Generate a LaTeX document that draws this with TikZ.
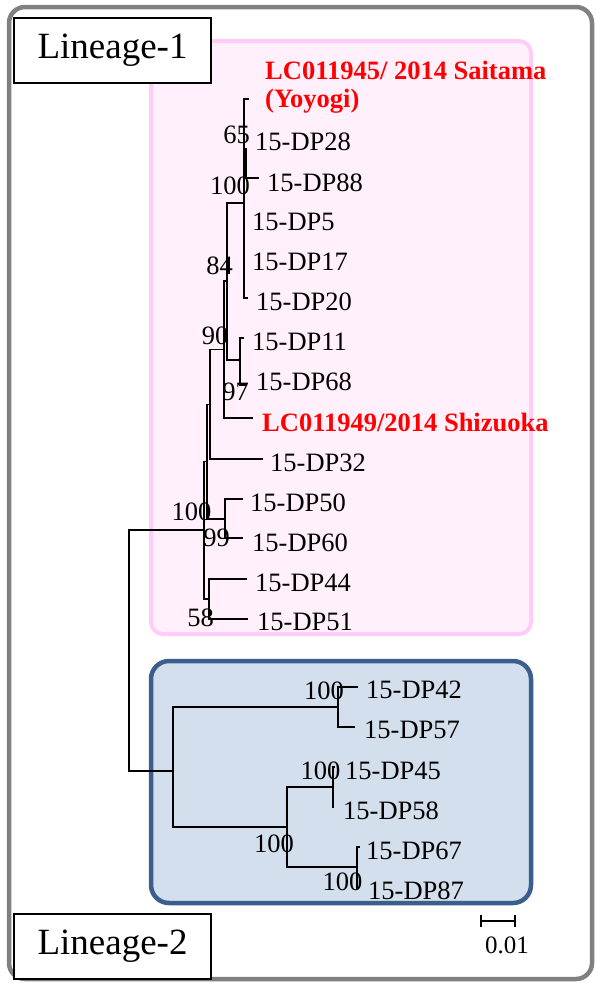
\documentclass[tikz,border=0pt]{standalone}
\usepackage{fontspec}
\setmainfont{Liberation Serif}
\definecolor{framegray}{HTML}{808080}
\definecolor{pinkfill}{HTML}{FFF0FC}
\definecolor{pinkline}{HTML}{FFCCF8}
\definecolor{bluefill}{HTML}{D4DFEE}
\definecolor{blueline}{HTML}{3B5E8C}
\begin{document}
\begin{tikzpicture}[x=1pt,y=-1pt,
  br/.style={line width=1.6pt},
  leaf/.style={anchor=west, inner sep=0pt, font=\fontsize{26.5}{28}\selectfont},
  redleaf/.style={anchor=west, inner sep=0pt, text=red, font=\fontsize{26.5}{28}\selectfont\bfseries},
  boot/.style={inner sep=0pt, font=\fontsize{26.5}{28}\selectfont},
  linbox/.style={draw, line width=1.5pt, fill=white, minimum width=197pt, minimum height=65pt, inner sep=0pt, font=\fontsize{37}{40}\selectfont}]
\useasboundingbox (0,0) rectangle (595,983);
% frames
\draw[framegray, line width=4.5pt, rounded corners=16pt] (9,7) rectangle (592,979);
\draw[pinkline, fill=pinkfill, line width=4pt, rounded corners=12pt] (151,41) rectangle (531,634);
\draw[blueline, fill=bluefill, line width=4.5pt, rounded corners=18pt] (151,661) rectangle (531,903);
\node[linbox] (lin1) at (112.5,50.5) {Lineage-1};
\node[linbox] (lin2) at (112.5,946.5) {Lineage-2};
% ---- tree coordinates (lineage 1)
\coordinate (n100a) at (244,203);
\coordinate (tYoy) at (249,99);
\coordinate (tDP28) at (244,142);
\coordinate (tDP88) at (259,178);
\coordinate (tDP5) at (244,222);
\coordinate (tDP17) at (244,262);
\coordinate (tDP20) at (248,298);
\coordinate (n65) at (246,162);
\coordinate (n65a) at (246,148);
\coordinate (n65b) at (246,177);
\coordinate (nB) at (227,281);
\coordinate (n97) at (240,360);
\coordinate (tDP11) at (244,338);
\coordinate (tDP68) at (246,385);
\coordinate (nA) at (224,349.5);
\coordinate (tShiz) at (253,418);
\coordinate (nC) at (210,404.5);
\coordinate (tDP32) at (263,459);
\coordinate (nF) at (207,461.5);
\coordinate (n99) at (225,519);
\coordinate (tDP50) at (243,499);
\coordinate (tDP60) at (243,538);
\coordinate (nE) at (204,530);
\coordinate (n58) at (209,599);
\coordinate (tDP44) at (247,579);
\coordinate (tDP51) at (248,619);
\coordinate (root) at (129,650);
% lineage 2
\coordinate (nL2) at (173,771);
\coordinate (n42) at (338,707);
\coordinate (tDP42) at (358,687);
\coordinate (tDP57) at (355,727);
\coordinate (n4567) at (287,827);
\coordinate (n45) at (333,787);
\coordinate (tDP45) at (335,767);
\coordinate (tDP58) at (334,807);
\coordinate (n67) at (357,867);
\coordinate (tDP67) at (360,847);
\coordinate (tDP87) at (358,888);
% ---- branches
\draw[br] (n100a) |- (tYoy) (n100a) |- (tDP88) (n100a) |- (tDP20);
\draw[line width=2.6pt] (n65a) -- (n65b);
\draw[br] (nB) |- (n100a) (nB) |- (n97);
\draw[br] (n97) |- (tDP11) (n97) |- (tDP68);
\draw[br] (nA) |- (nB) (nA) |- (tShiz);
\draw[br] (nC) |- (nA) (nC) |- (tDP32);
\draw[br] (nF) |- (nC) (nF) |- (n99);
\draw[br] (n99) |- (tDP50) (n99) |- (tDP60);
\draw[br] (nE) |- (nF) (nE) |- (n58);
\draw[br] (n58) |- (tDP44) (n58) |- (tDP51);
\draw[br] (root) |- (nE) (root) |- (nL2);
\draw[br] (nL2) |- (n42) (nL2) |- (n4567);
\draw[br] (n42) |- (tDP42) (n42) |- (tDP57);
\draw[br] (n4567) |- (n45) (n4567) |- (n67);
\draw[br] (n45) |- (tDP45) (n45) |- (tDP58);
\draw[br] (n67) |- (tDP67) (n67) |- (tDP87);
% ---- leaf labels
\node[redleaf] (lYoy1) at (265,70) {LC011945/ 2014 Saitama};
\node[redleaf] (lYoy2) at (265,101) {(Yoyogi)};
\node[leaf] (lDP28) at (255,142) {15-DP28};
\node[leaf] (lDP88) at (267,183) {15-DP88};
\node[leaf] (lDP5) at (252,222) {15-DP5};
\node[leaf] (lDP17) at (252,262) {15-DP17};
\node[leaf] (lDP20) at (256,302) {15-DP20};
\node[leaf] (lDP11) at (252,342) {15-DP11};
\node[leaf] (lDP68) at (256,382) {15-DP68};
\node[redleaf] (lShiz) at (262,422) {LC011949/2014 Shizuoka};
\node[leaf] (lDP32) at (270,463) {15-DP32};
\node[leaf] (lDP50) at (250,503) {15-DP50};
\node[leaf] (lDP60) at (252,543) {15-DP60};
\node[leaf] (lDP44) at (255,583) {15-DP44};
\node[leaf] (lDP51) at (257,622) {15-DP51};
\node[leaf] (lDP42) at (366,690) {15-DP42};
\node[leaf] (lDP57) at (364,730) {15-DP57};
\node[leaf] (lDP45) at (345,771) {15-DP45};
\node[leaf] (lDP58) at (343,811) {15-DP58};
\node[leaf] (lDP67) at (366,851) {15-DP67};
\node[leaf] (lDP87) at (368,891) {15-DP87};
% ---- bootstrap values
\node[boot] (b65) at (236.5,135) {65};
\node[boot] (b100a) at (230,185.5) {100};
\node[boot] (b84) at (219.5,265.5) {84};
\node[boot] (b90) at (215,336) {90};
\node[boot] (b97) at (235.5,392) {97};
\node[boot] (b100b) at (191.5,512) {100};
\node[boot] (b99) at (216.5,538) {99};
\node[boot] (b58) at (200.5,617.5) {58};
\node[boot] (b100c) at (324,690.5) {100};
\node[boot] (b100d) at (320.5,770.5) {100};
\node[boot] (b100e) at (274,843.5) {100};
\node[boot] (b100f) at (342.5,882) {100};
% ---- scale bar
\coordinate (sbL) at (481,921);
\coordinate (sbR) at (515,921);
\draw[line width=1.6pt] (sbL) -- (sbR);
\draw[line width=1.6pt] ([yshift=-6pt]sbL) -- ([yshift=6pt]sbL);
\draw[line width=1.6pt] ([yshift=-6pt]sbR) -- ([yshift=6pt]sbR);
\node[boot, font=\fontsize{25}{27}\selectfont] (sblab) at (507,945) {0.01};
\end{tikzpicture}
\end{document}
